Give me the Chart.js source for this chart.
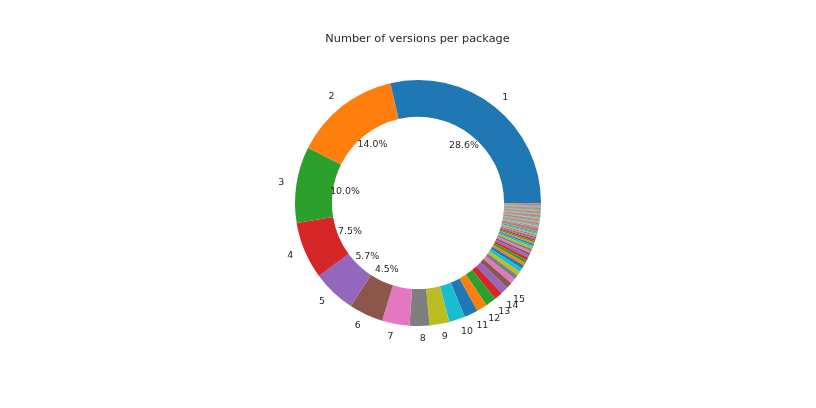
<!DOCTYPE html>
<html>
<head>
<meta charset="utf-8">
<script src="https://cdn.jsdelivr.net/npm/chart.js@4"></script>
<style>
  html, body { margin: 0; padding: 0; background: #fff; }
  canvas { display: block; }
</style>
</head>
<body>
<canvas id="myChart" width="816" height="408"></canvas>
<script>
// number of packages having 1, 2, 3 ... versions
const counts = [572, 280, 200, 150, 114, 90, 72, 52, 52, 42, 36, 28, 28, 22, 20,
    16, 14, 12, 11, 10, 9, 8, 8, 7, 7, 6, 6, 6, 5, 5,
    4, 4, 4, 4, 3, 3, 3, 3, 3, 3, 2, 2, 2, 2, 2, 2, 2, 2, 2, 2,
    1, 1, 1, 1, 1, 1, 1, 1, 1, 1, 1, 1, 1, 1, 1, 1, 1, 1, 1, 1,
    1, 1, 1, 1, 1, 1, 1, 1, 1, 1, 1, 1, 1, 1, 1, 1, 1, 1, 1, 1,
    1, 1, 1, 1, 1, 1, 1, 1, 1, 1, 1, 1, 1, 1, 1, 1, 1, 1];

// only the first ones get a label on the picture
const shownLabels = ['1', '2', '3', '4', '5', '6', '7', '8', '9', '10', '11', '12', '13', '14', '15'];

const categories = counts.map((c, i) => String(i + 1));

const tab10 = ['#1f77b4', '#ff7f0e', '#2ca02c', '#d62728', '#9467bd',
    '#8c564b', '#e377c2', '#7f7f7f', '#bcbd22', '#17becf'];

const titleText = 'Number of versions per package';

const total = counts.reduce((a, b) => a + b, 0);
const colors = counts.map((c, i) => tab10[i % 10]);

// matplotlib goes counter clockwise from 3 o'clock, chart.js goes clockwise,
// so reverse everything and start at 90deg
const n = counts.length;
const revData = counts.slice().reverse();
const revColors = colors.slice().reverse();
const revLabels = categories.slice().reverse();

const textPlugin = {
    id: 'pieText',
    afterDatasetsDraw(chart) {
        const ctx = chart.ctx;
        const meta = chart.getDatasetMeta(0);
        ctx.save();
        ctx.fillStyle = '#262626';
        ctx.font = '11.3px "DejaVu Sans"';
        ctx.textAlign = 'center';
        ctx.textBaseline = 'middle';
        ctx.fillText(titleText, 417.5, 39);

        ctx.font = '9.4px "DejaVu Sans"';
        meta.data.forEach((arc, j) => {
            const i = n - 1 - j;
            const cx = arc.x, cy = arc.y;
            const R = arc.outerRadius;
            const mid = (arc.startAngle + arc.endAngle) / 2;
            if (i < shownLabels.length) {
                const lx = cx + 1.1 * R * Math.cos(mid);
                const ly = cy + 1.1 * R * Math.sin(mid);
                ctx.textAlign = lx > cx ? 'left' : 'right';
                ctx.fillText(shownLabels[i], lx, ly);
            }
            const pct = counts[i] / total * 100;
            if (pct > 4) {
                const px = cx + 0.6 * R * Math.cos(mid);
                const py = cy + 0.6 * R * Math.sin(mid);
                ctx.textAlign = 'center';
                ctx.fillText(pct.toFixed(1) + '%', px, py);
            }
        });
        ctx.restore();
    }
};

const ctx = document.getElementById('myChart');

new Chart(ctx, {
    type: 'doughnut',
    data: {
        labels: revLabels,
        datasets: [{
            data: revData,
            backgroundColor: revColors,
            borderWidth: 0,
            offset: 0,
            hoverOffset: 0
        }]
    },
    options: {
        responsive: false,
        animation: false,
        devicePixelRatio: 1,
        rotation: 90,
        cutout: '70%',
        layout: {
            padding: { top: 80, bottom: 82, left: 20, right: 0 }
        },
        plugins: {
            legend: { display: false },
            title: { display: false },
            tooltip: { enabled: false }
        }
    },
    plugins: [textPlugin]
});
</script>
</body>
</html>
